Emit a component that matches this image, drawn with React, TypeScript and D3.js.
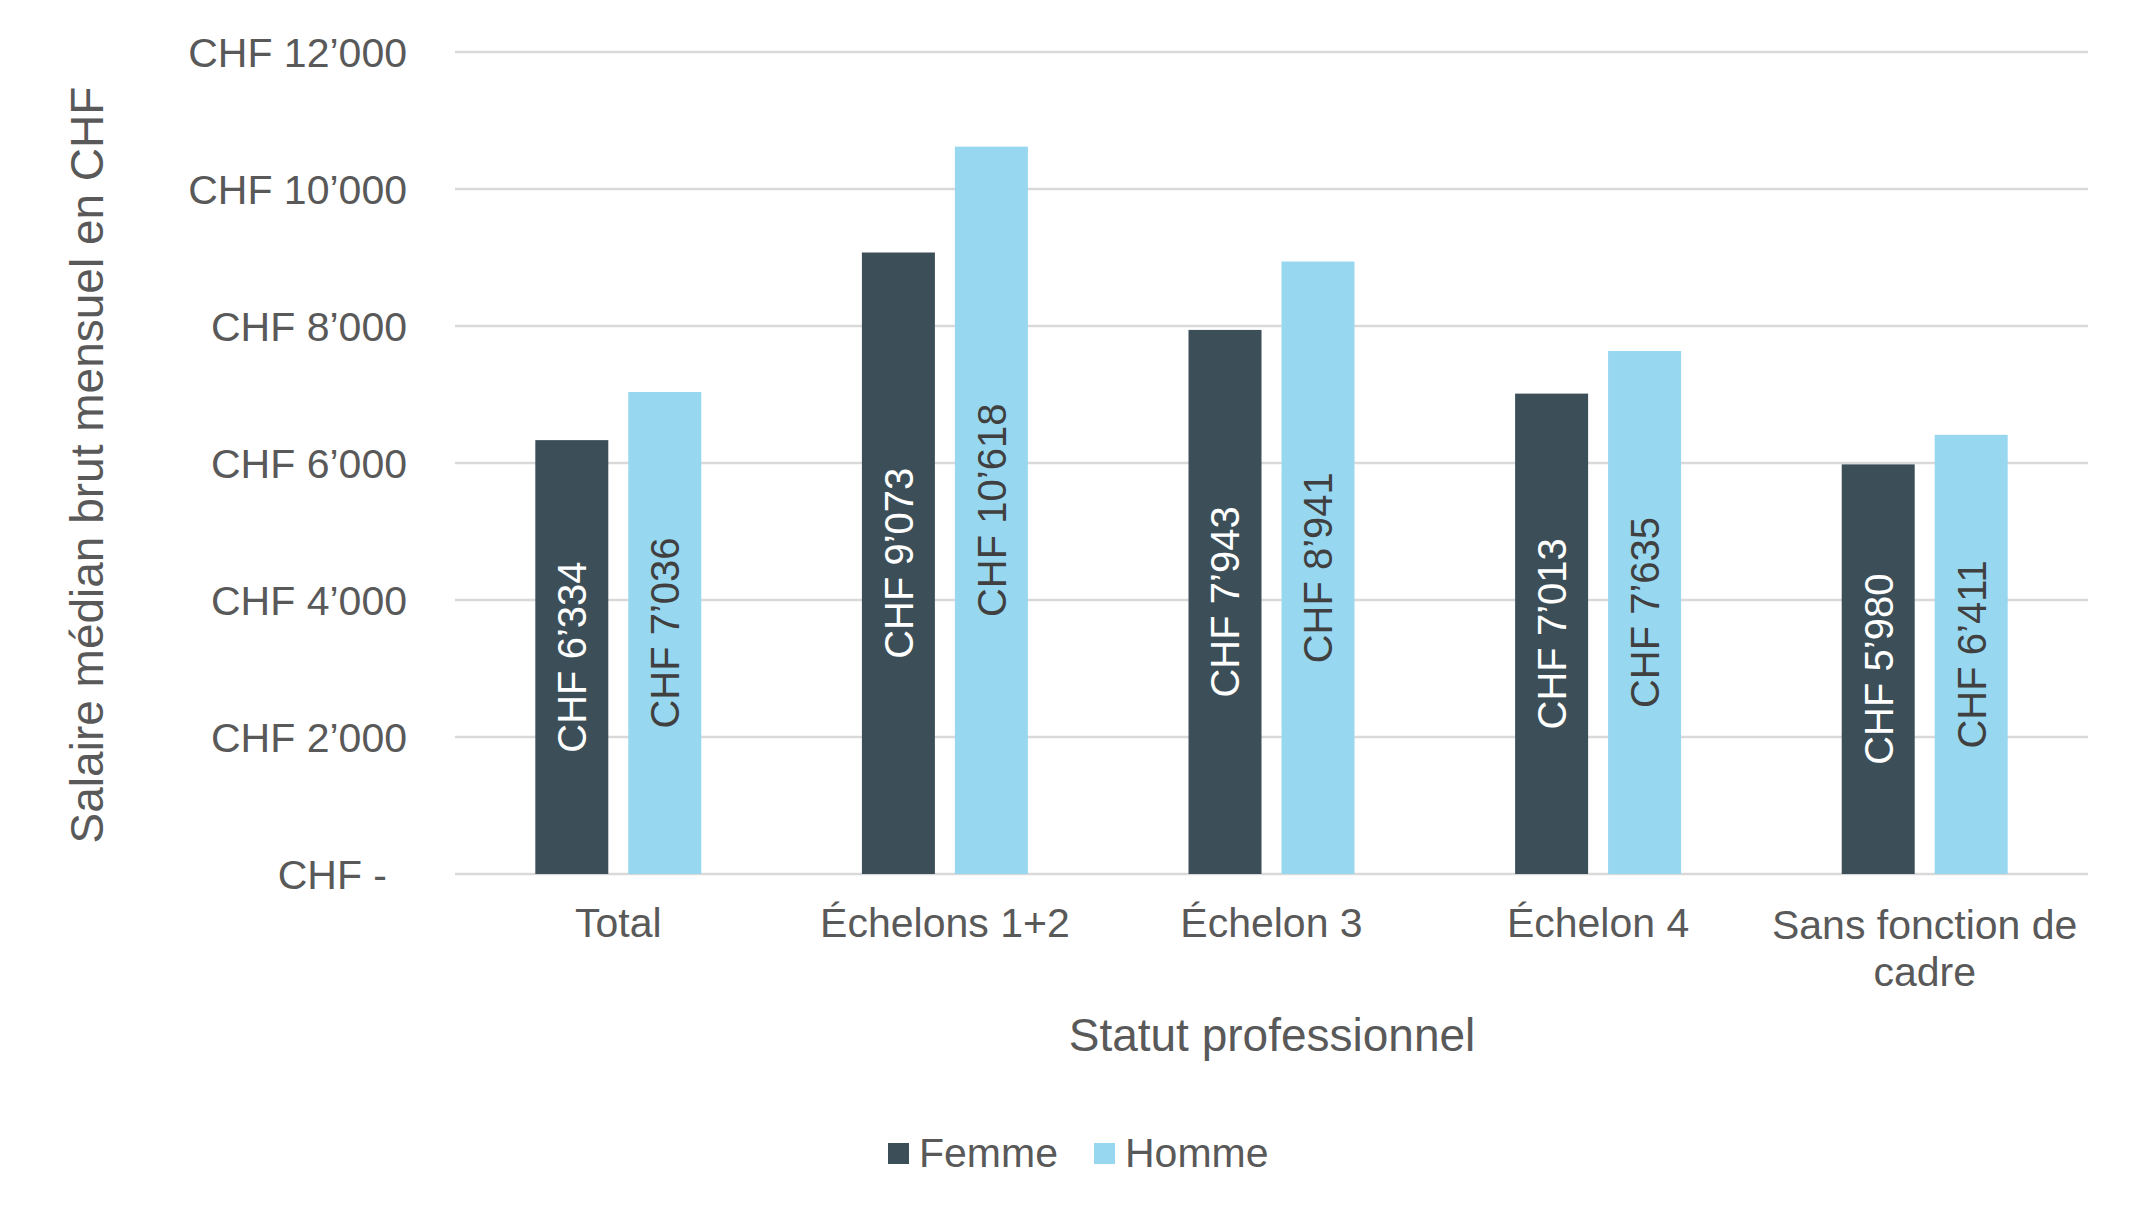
import React from "react";
import * as d3 from "d3";

const categories: string[][] = [
  ["Total"],
  ["Échelons 1+2"],
  ["Échelon 3"],
  ["Échelon 4"],
  ["Sans fonction de", "cadre"],
];
const seriesNames = ["Femme", "Homme"];
const femme = [6334, 9073, 7943, 7013, 5980];
const homme = [7036, 10618, 8941, 7635, 6411];
const yTicks = [0, 2000, 4000, 6000, 8000, 10000, 12000];

const colors: Record<string, string> = { Femme: "#3C4F59", Homme: "#97D7EF" };
const labelColors: Record<string, string> = { Femme: "#FFFFFF", Homme: "#404040" };

const W = 2141;
const H = 1219;
const FONT = "'Liberation Sans', Arial, Helvetica, sans-serif";
const TXT = "#595959";

const fmt = (v: number) => {
  if (v === 0) return "CHF -";
  const s = d3.format(",")(v).replace(/,/g, "\u2019");
  return "CHF " + s;
};

export default function App() {
  const left = 455;
  const right = 2088;
  const top = 52;
  const bottom = 874;
  const keys = categories.map((c) => c.join(" "));
  const x0 = d3.scaleBand<string>().domain(keys).range([left, right]).padding(0);
  const bw = x0.bandwidth();
  const barW = bw * 0.2235;
  const gap = bw * 0.0612;
  const step = barW + gap;
  const pi = gap / step;
  const po = (bw / step - (2 - pi)) / 2;
  const x1 = d3
    .scaleBand<string>()
    .domain(seriesNames)
    .range([0, bw])
    .paddingInner(pi)
    .paddingOuter(po);
  const y = d3.scaleLinear().domain([0, 12000]).range([bottom, top]);
  const data: Record<string, number[]> = { Femme: femme, Homme: homme };

  return (
    <svg
      width={W}
      height={H}
      viewBox={`0 0 ${W} ${H}`}
      style={{ position: "absolute", left: 0, top: 0, background: "#fff" }}
      fontFamily={FONT}
    >
      <rect x={0} y={0} width={W} height={H} fill="#fff" />
      {yTicks.map((t) => (
        <g key={t}>
          <line x1={left} x2={right} y1={y(t)} y2={y(t)} stroke="#D9D9D9" strokeWidth={2.5} />
          <text
            x={t === 0 ? 387 : 407}
            y={y(t)}
            dy="0.36em"
            textAnchor="end"
            fontSize={41}
            fill={TXT}
          >
            {fmt(t)}
          </text>
        </g>
      ))}
      {seriesNames.map((s) =>
        keys.map((k, i) => {
          const v = data[s][i];
          const bx = (x0(k) as number) + (x1(s) as number);
          const by = y(v);
          const bh = bottom - by;
          const cx = bx + x1.bandwidth() / 2;
          const cy = by + bh / 2;
          return (
            <g key={s + k}>
              <rect x={bx} y={by} width={x1.bandwidth()} height={bh} fill={colors[s]} />
              <text
                transform={`translate(${cx},${cy}) rotate(-90)`}
                textAnchor="middle"
                dy="0.36em"
                fontSize={40}
                fill={labelColors[s]}
              >
                {fmt(v)}
              </text>
            </g>
          );
        })
      )}
      {categories.map((c, i) => {
        const cx = (x0(keys[i]) as number) + bw / 2;
        return (
          <text key={keys[i]} x={cx} y={c.length > 1 ? 939 : 937} textAnchor="middle" fontSize={41} fill={TXT}>
            {c.map((line, j) => (
              <tspan key={j} x={cx} dy={j === 0 ? 0 : 47}>
                {line}
              </tspan>
            ))}
          </text>
        );
      })}
      <text x={1272} y={1051} textAnchor="middle" fontSize={46} fill={TXT}>
        Statut professionnel
      </text>
      <text
        transform={`translate(103,465) rotate(-90)`}
        textAnchor="middle"
        fontSize={46}
        fill={TXT}
      >
        Salaire médian brut mensuel en CHF
      </text>
      {seriesNames.map((s, i) => {
        const lx = i === 0 ? 888 : 1094;
        return (
          <g key={s}>
            <rect x={lx} y={1143} width={21} height={21} fill={colors[s]} />
            <text x={lx + 31} y={1167} fontSize={41} fill={TXT}>
              {s}
            </text>
          </g>
        );
      })}
    </svg>
  );
}
